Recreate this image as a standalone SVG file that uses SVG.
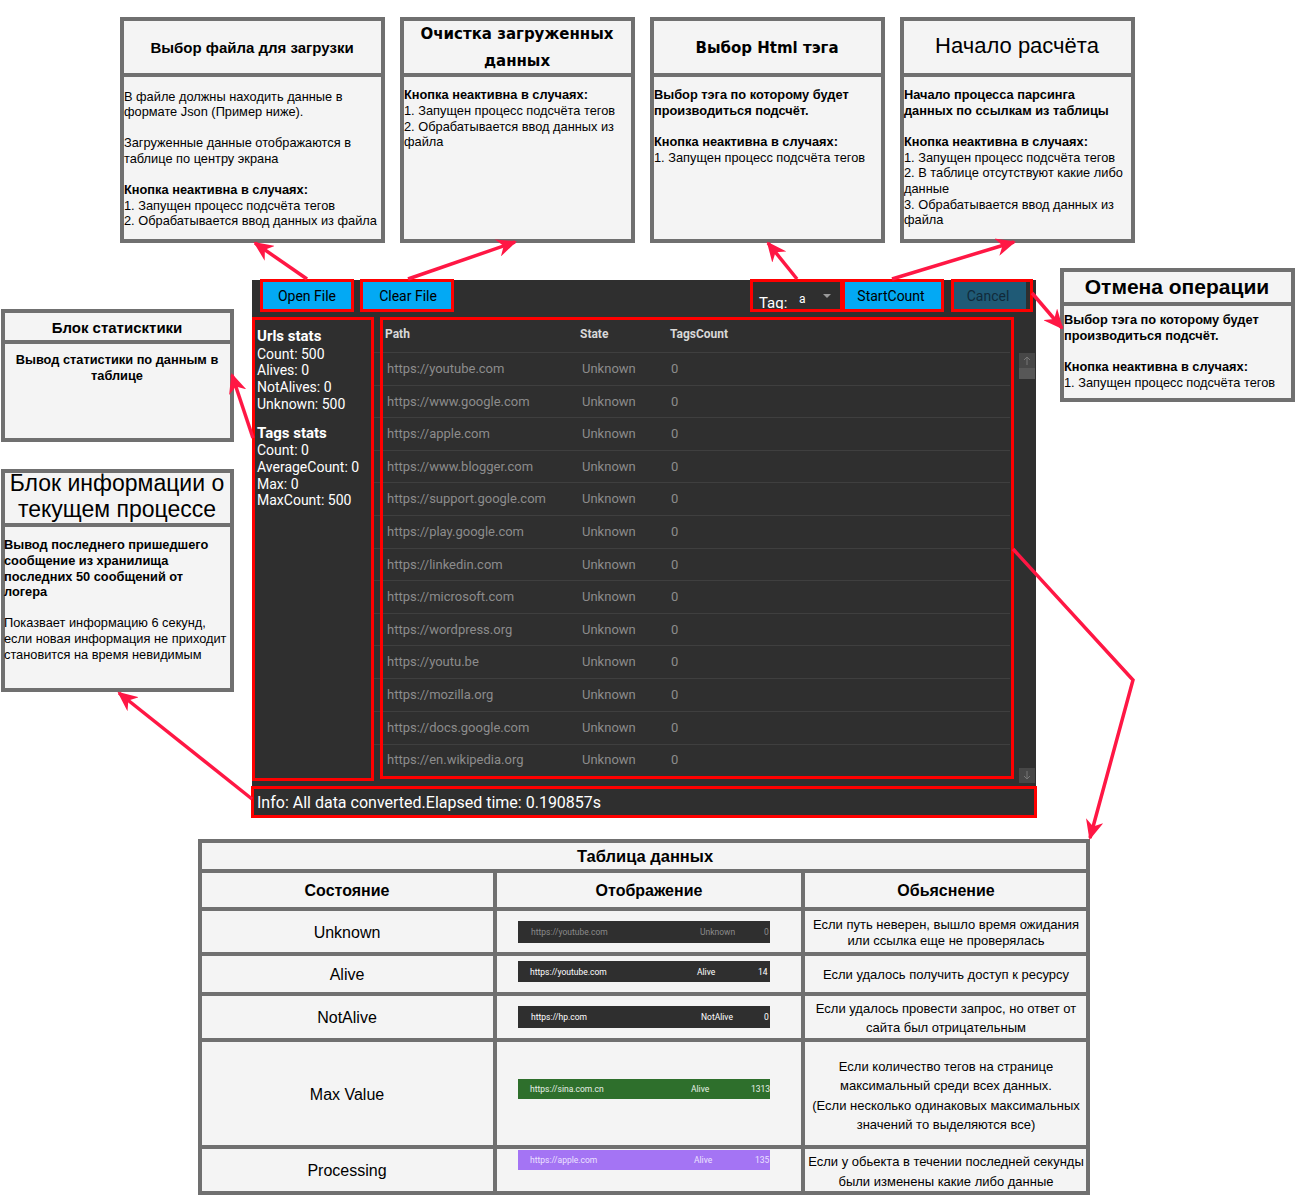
<svg xmlns="http://www.w3.org/2000/svg" width="1296" height="1196" viewBox="0 0 1296 1196">
<style>
.box{fill:#f4f4f4;stroke:#707070;stroke-width:4}
.div{stroke:#707070;stroke-width:4}
.t{font-family:"Liberation Sans",Arial,sans-serif;font-size:12.8px;fill:#000}
.b{font-weight:bold}
.hv{font-family:"DejaVu Sans",Verdana,sans-serif;font-weight:bold;font-size:15px;fill:#000}
.app{fill:#2f2f2f}
.red{fill:none;stroke:#ff0000;stroke-width:3}
.btn{fill:#03a9f4}
.bt{font-family:Roboto,"Liberation Sans",sans-serif;font-size:14px;fill:#000;text-anchor:middle}
.w{font-family:Roboto,"Liberation Sans",sans-serif;font-size:14px;fill:#fff}
.g{font-family:Roboto,"Liberation Sans",sans-serif;font-size:13px;fill:#8c8c8c}
.gh{font-family:Roboto,"Liberation Sans",sans-serif;font-size:12px;font-weight:bold;fill:#d8d8d8}
.sep{stroke:#3f3f3f;stroke-width:1}
.cell{fill:#f4f4f4;stroke:#707070;stroke-width:4}
.c{font-family:"Liberation Sans",Arial,sans-serif;font-size:13px;fill:#000;text-anchor:middle}
.ch{font-family:"Liberation Sans",Arial,sans-serif;font-size:16px;font-weight:bold;fill:#000;text-anchor:middle}
.cs{font-family:"Liberation Sans",Arial,sans-serif;font-size:16px;fill:#000;text-anchor:middle}
.m{font-family:Roboto,"Liberation Sans",sans-serif;font-size:8.5px}
.arr{fill:none;stroke:#ff1744;stroke-width:3.5}
</style>
<defs>
<marker id="ah" markerUnits="userSpaceOnUse" markerWidth="20" markerHeight="18" viewBox="0 0 20 18" refX="18" refY="9" orient="auto">
<path d="M0,0 L20,9 L0,18 L6,9 z" fill="#ff1744"/>
</marker>
</defs>
<rect width="1296" height="1196" fill="#ffffff"/>

<!-- Top annotation boxes -->
<g id="box-open">
<rect class="box" x="122" y="19" width="261" height="222"/>
<line class="div" x1="122" y1="75" x2="383" y2="75"/>
<text class="t b" x="252" y="53" text-anchor="middle" style="font-size:15px">Выбор файла для загрузки</text>
<text class="t" x="124" y="101">В файле должны находить данные в</text>
<text class="t" x="124" y="116">формате Json (Пример ниже).</text>
<text class="t" x="124" y="147">Загруженные данные отображаются в</text>
<text class="t" x="124" y="163">таблице по центру экрана</text>
<text class="t b" x="124" y="194">Кнопка неактивна в случаях:</text>
<text class="t" x="124" y="210">1. Запущен процесс подсчёта тегов</text>
<text class="t" x="124" y="225">2. Обрабатывается ввод данных из файла</text>
</g>

<g id="box-clear">
<rect class="box" x="402" y="19" width="231" height="222"/>
<line class="div" x1="402" y1="75" x2="633" y2="75"/>
<text class="hv" x="517" y="39" text-anchor="middle">Очистка загруженных</text>
<text class="hv" x="517" y="66" text-anchor="middle">данных</text>
<text class="t b" x="404" y="99">Кнопка неактивна в случаях:</text>
<text class="t" x="404" y="115">1. Запущен процесс подсчёта тегов</text>
<text class="t" x="404" y="131">2. Обрабатывается ввод данных из</text>
<text class="t" x="404" y="146">файла</text>
</g>

<g id="box-tag">
<rect class="box" x="652" y="19" width="231" height="222"/>
<line class="div" x1="652" y1="75" x2="883" y2="75"/>
<text class="hv" x="767" y="53" text-anchor="middle">Выбор Html тэга</text>
<text class="t b" x="654" y="99">Выбор тэга по которому будет</text>
<text class="t b" x="654" y="115">производиться подсчёт.</text>
<text class="t b" x="654" y="146">Кнопка неактивна в случаях:</text>
<text class="t" x="654" y="162">1. Запущен процесс подсчёта тегов</text>
</g>

<g id="box-start">
<rect class="box" x="902" y="19" width="231" height="222"/>
<line class="div" x1="902" y1="75" x2="1133" y2="75"/>
<text class="t" x="1017" y="53" text-anchor="middle" style="font-size:22px">Начало расчёта</text>
<text class="t b" x="904" y="99">Начало процесса парсинга</text>
<text class="t b" x="904" y="115">данных по ссылкам из таблицы</text>
<text class="t b" x="904" y="146">Кнопка неактивна в случаях:</text>
<text class="t" x="904" y="162">1. Запущен процесс подсчёта тегов</text>
<text class="t" x="904" y="177">2. В таблице отсутствуют какие либо</text>
<text class="t" x="904" y="193">данные</text>
<text class="t" x="904" y="209">3. Обрабатывается ввод данных из</text>
<text class="t" x="904" y="224">файла</text>
</g>

<g id="box-cancel">
<rect class="box" x="1062" y="270" width="231" height="130"/>
<line class="div" x1="1062" y1="304" x2="1293" y2="304"/>
<text class="t b" x="1177" y="294" text-anchor="middle" style="font-size:21px">Отмена операции</text>
<text class="t b" x="1064" y="324">Выбор тэга по которому будет</text>
<text class="t b" x="1064" y="340">производиться подсчёт.</text>
<text class="t b" x="1064" y="371">Кнопка неактивна в случаях:</text>
<text class="t" x="1064" y="387">1. Запущен процесс подсчёта тегов</text>
</g>

<g id="box-stats">
<rect class="box" x="3" y="311" width="229" height="129"/>
<line class="div" x1="3" y1="342" x2="232" y2="342"/>
<text class="t b" x="117" y="333" text-anchor="middle" style="font-size:15px">Блок статисктики</text>
<text class="t b" x="117" y="364" text-anchor="middle">Вывод статистики по данным в</text>
<text class="t b" x="117" y="380" text-anchor="middle">таблице</text>
</g>

<g id="box-info">
<rect class="box" x="3" y="471" width="229" height="219"/>
<line class="div" x1="3" y1="525" x2="232" y2="525"/>
<text class="t" x="117" y="491" text-anchor="middle" style="font-size:23px">Блок информации о</text>
<text class="t" x="117" y="517" text-anchor="middle" style="font-size:23px">текущем процессе</text>
<text class="t b" x="4" y="549">Вывод последнего пришедшего</text>
<text class="t b" x="4" y="565">сообщение из хранилища</text>
<text class="t b" x="4" y="581">последних 50 сообщений от</text>
<text class="t b" x="4" y="596">логера</text>
<text class="t" x="4" y="627">Показвает информацию 6 секунд,</text>
<text class="t" x="4" y="643">если новая информация не приходит</text>
<text class="t" x="4" y="659">становится на время невидимым</text>
</g>

<!-- Application window -->
<g id="app">
<rect class="app" x="252" y="280" width="784" height="538"/>
</g>

<g id="btn-open">
<rect class="btn" x="263" y="282" width="88" height="27"/>
<rect class="red" x="261.5" y="280.5" width="91" height="30"/>
<text class="bt" x="307" y="301">Open File</text>
</g>
<g id="btn-clear">
<rect class="btn" x="363" y="282" width="88" height="27"/>
<rect class="red" x="361.5" y="280.5" width="91" height="30"/>
<text class="bt" x="408" y="301">Clear File</text>
</g>
<g id="tag-select">
<text class="w" x="759" y="308" style="font-size:15px">Tag:</text>
<text class="w" x="799" y="303" style="font-size:12px">a</text>
<path d="M823,294 L831,294 L827,298 z" fill="#9a9a9a"/>
<rect class="red" x="751.5" y="280.5" width="90" height="30"/>
</g>
<g id="btn-start">
<rect class="btn" x="845" y="282" width="97" height="27"/>
<rect class="red" x="843.5" y="280.5" width="99" height="30"/>
<text class="bt" x="891" y="301">StartCount</text>
</g>
<g id="btn-cancel">
<rect x="954" y="282" width="72" height="27" fill="#1f5a76"/>
<rect class="red" x="952.5" y="280.5" width="79" height="30"/>
<text class="bt" x="988" y="301" style="fill:#112a3a">Cancel</text>
</g>

<g id="stats-panel">
<text class="w" x="257" y="341" style="font-size:15px;font-weight:bold">Urls stats</text>
<text class="w" x="257" y="359">Count: 500</text>
<text class="w" x="257" y="375">Alives: 0</text>
<text class="w" x="257" y="392">NotAlives: 0</text>
<text class="w" x="257" y="409">Unknown: 500</text>
<text class="w" x="257" y="438" style="font-size:15px;font-weight:bold">Tags stats</text>
<text class="w" x="257" y="455">Count: 0</text>
<text class="w" x="257" y="472">AverageCount: 0</text>
<text class="w" x="257" y="489">Max: 0</text>
<text class="w" x="257" y="505">MaxCount: 500</text>
<rect class="red" x="253.5" y="318.5" width="119" height="461"/>
</g>

<g id="data-grid">
<text class="gh" x="385" y="338">Path</text>
<text class="gh" x="580" y="338">State</text>
<text class="gh" x="670" y="338">TagsCount</text>
<g>
<line class="sep" x1="374" y1="352.5" x2="1010" y2="352.5"/>
<line class="sep" x1="374" y1="385.5" x2="1010" y2="385.5"/>
<line class="sep" x1="374" y1="417.5" x2="1010" y2="417.5"/>
<line class="sep" x1="374" y1="450.5" x2="1010" y2="450.5"/>
<line class="sep" x1="374" y1="482.5" x2="1010" y2="482.5"/>
<line class="sep" x1="374" y1="515.5" x2="1010" y2="515.5"/>
<line class="sep" x1="374" y1="548.5" x2="1010" y2="548.5"/>
<line class="sep" x1="374" y1="580.5" x2="1010" y2="580.5"/>
<line class="sep" x1="374" y1="613.5" x2="1010" y2="613.5"/>
<line class="sep" x1="374" y1="645.5" x2="1010" y2="645.5"/>
<line class="sep" x1="374" y1="678.5" x2="1010" y2="678.5"/>
<line class="sep" x1="374" y1="711.5" x2="1010" y2="711.5"/>
<line class="sep" x1="374" y1="744.5" x2="1010" y2="744.5"/>
</g>
<g>
<text class="g" x="387" y="373">https://youtube.com</text><text class="g" x="582" y="373">Unknown</text><text class="g" x="671" y="373">0</text>
<text class="g" x="387" y="406">https://www.google.com</text><text class="g" x="582" y="406">Unknown</text><text class="g" x="671" y="406">0</text>
<text class="g" x="387" y="438">https://apple.com</text><text class="g" x="582" y="438">Unknown</text><text class="g" x="671" y="438">0</text>
<text class="g" x="387" y="471">https://www.blogger.com</text><text class="g" x="582" y="471">Unknown</text><text class="g" x="671" y="471">0</text>
<text class="g" x="387" y="503">https://support.google.com</text><text class="g" x="582" y="503">Unknown</text><text class="g" x="671" y="503">0</text>
<text class="g" x="387" y="536">https://play.google.com</text><text class="g" x="582" y="536">Unknown</text><text class="g" x="671" y="536">0</text>
<text class="g" x="387" y="569">https://linkedin.com</text><text class="g" x="582" y="569">Unknown</text><text class="g" x="671" y="569">0</text>
<text class="g" x="387" y="601">https://microsoft.com</text><text class="g" x="582" y="601">Unknown</text><text class="g" x="671" y="601">0</text>
<text class="g" x="387" y="634">https://wordpress.org</text><text class="g" x="582" y="634">Unknown</text><text class="g" x="671" y="634">0</text>
<text class="g" x="387" y="666">https://youtu.be</text><text class="g" x="582" y="666">Unknown</text><text class="g" x="671" y="666">0</text>
<text class="g" x="387" y="699">https://mozilla.org</text><text class="g" x="582" y="699">Unknown</text><text class="g" x="671" y="699">0</text>
<text class="g" x="387" y="732">https://docs.google.com</text><text class="g" x="582" y="732">Unknown</text><text class="g" x="671" y="732">0</text>
<text class="g" x="387" y="764">https://en.wikipedia.org</text><text class="g" x="582" y="764">Unknown</text><text class="g" x="671" y="764">0</text>
</g>
<rect class="red" x="381.5" y="318.5" width="631" height="459"/>
</g>

<g id="scrollbar">
<rect x="1019" y="353" width="16" height="15" fill="#474747"/>
<path d="M1027,357 L1027,365 M1024,360 L1027,357 L1030,360" stroke="#777" stroke-width="1" fill="none"/>
<rect x="1019" y="368" width="16" height="11" fill="#575757"/>
<rect x="1019" y="768" width="16" height="15" fill="#474747"/>
<path d="M1027,771 L1027,779 M1024,776 L1027,779 L1030,776" stroke="#777" stroke-width="1" fill="none"/>
</g>

<g id="info-bar">
<text class="w" x="257" y="808" style="font-size:16px">Info: All data converted.Elapsed time: 0.190857s</text>
<rect class="red" x="252.5" y="787.5" width="783" height="29"/>
</g>

<!-- Legend table -->
<g id="legend-table">
<rect class="cell" x="200" y="841" width="888" height="30"/>
<text class="ch" x="645" y="862" style="font-size:16.5px">Таблица данных</text>
<rect class="cell" x="200" y="871" width="295" height="38"/>
<rect class="cell" x="495" y="871" width="308" height="38"/>
<rect class="cell" x="803" y="871" width="285" height="38"/>
<text class="ch" x="347" y="896">Состояние</text>
<text class="ch" x="649" y="896">Отображение</text>
<text class="ch" x="946" y="896">Обьяснение</text>

<rect class="cell" x="200" y="909" width="295" height="45"/>
<rect class="cell" x="495" y="909" width="308" height="45"/>
<rect class="cell" x="803" y="909" width="285" height="45"/>
<rect class="cell" x="200" y="954" width="295" height="40"/>
<rect class="cell" x="495" y="954" width="308" height="40"/>
<rect class="cell" x="803" y="954" width="285" height="40"/>
<rect class="cell" x="200" y="994" width="295" height="46"/>
<rect class="cell" x="495" y="994" width="308" height="46"/>
<rect class="cell" x="803" y="994" width="285" height="46"/>
<rect class="cell" x="200" y="1040" width="295" height="107"/>
<rect class="cell" x="495" y="1040" width="308" height="107"/>
<rect class="cell" x="803" y="1040" width="285" height="107"/>
<rect class="cell" x="200" y="1147" width="295" height="46"/>
<rect class="cell" x="495" y="1147" width="308" height="46"/>
<rect class="cell" x="803" y="1147" width="285" height="46"/>

<text class="cs" x="347" y="938">Unknown</text>
<text class="cs" x="347" y="980">Alive</text>
<text class="cs" x="347" y="1023">NotAlive</text>
<text class="cs" x="347" y="1100">Max Value</text>
<text class="cs" x="347" y="1176">Processing</text>

<rect x="518" y="921" width="252" height="22" fill="#2f2f2f"/>
<text class="m" x="531" y="935" fill="#8a8a8a">https://youtube.com</text>
<text class="m" x="700" y="935" fill="#8a8a8a">Unknown</text>
<text class="m" x="764" y="935" fill="#8a8a8a">0</text>
<rect x="518" y="961" width="252" height="21" fill="#2f2f2f"/>
<text class="m" x="530" y="975" fill="#fff">https://youtube.com</text>
<text class="m" x="697" y="975" fill="#fff">Alive</text>
<text class="m" x="758" y="975" fill="#fff">14</text>
<rect x="518" y="1006" width="252" height="22" fill="#2f2f2f"/>
<text class="m" x="531" y="1020" fill="#fff">https://hp.com</text>
<text class="m" x="701" y="1020" fill="#fff">NotAlive</text>
<text class="m" x="764" y="1020" fill="#fff">0</text>
<rect x="518" y="1079" width="252" height="20" fill="#2e6f2c"/>
<text class="m" x="530" y="1092" fill="#e8f0e8">https://sina.com.cn</text>
<text class="m" x="691" y="1092" fill="#e8f0e8">Alive</text>
<text class="m" x="751" y="1092" fill="#e8f0e8">1313</text>
<rect x="518" y="1150" width="252" height="20" fill="#a474f4"/>
<text class="m" x="530" y="1163" fill="#ece2ff">https://apple.com</text>
<text class="m" x="694" y="1163" fill="#ece2ff">Alive</text>
<text class="m" x="755" y="1163" fill="#ece2ff">135</text>

<text class="c" x="946" y="929">Если путь неверен, вышло время ожидания</text>
<text class="c" x="946" y="945">или ссылка еще не проверялась</text>
<text class="c" x="946" y="979">Если удалось получить доступ к ресурсу</text>
<text class="c" x="946" y="1013">Если удалось провести запрос, но ответ от</text>
<text class="c" x="946" y="1032">сайта был отрицательным</text>
<text class="c" x="946" y="1071">Если количество тегов на странице</text>
<text class="c" x="946" y="1090">максимальный среди всех данных.</text>
<text class="c" x="946" y="1110">(Если несколько одинаковых максимальных</text>
<text class="c" x="946" y="1129">значений то выделяются все)</text>
<text class="c" x="946" y="1166">Если у обьекта в течении последней секунды</text>
<text class="c" x="946" y="1186">были изменены какие либо данные</text>
</g>

<!-- Connectors -->
<g id="connectors">
<path class="arr" d="M307,279 L255,243" marker-end="url(#ah)"/>
<path class="arr" d="M408,279 L515,242" marker-end="url(#ah)"/>
<path class="arr" d="M797,279 L768,243" marker-end="url(#ah)"/>
<path class="arr" d="M892,279 L1014,242" marker-end="url(#ah)"/>
<path class="arr" d="M1032,293 L1062,328" marker-end="url(#ah)"/>
<path class="arr" d="M253,438 L232,375" marker-end="url(#ah)"/>
<path class="arr" d="M252,799 L119,693" marker-end="url(#ah)"/>
<path class="arr" d="M1013,549 L1133,680 L1090,838" marker-end="url(#ah)"/>
</g>
</svg>
